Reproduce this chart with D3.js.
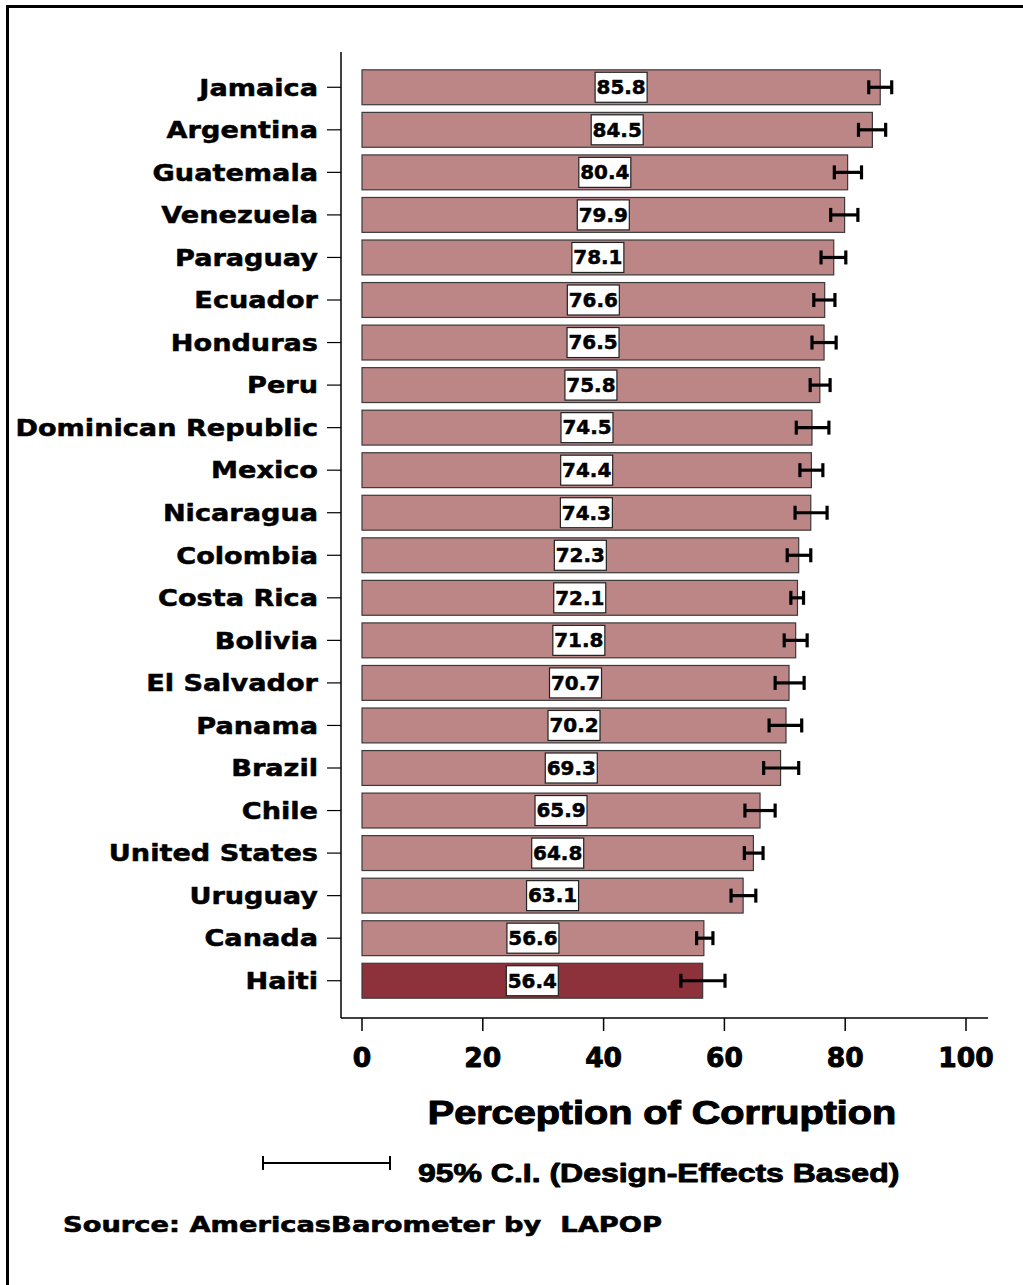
<!DOCTYPE html>
<html>
<head>
<meta charset="utf-8">
<script src="https://cdn.jsdelivr.net/npm/d3@7"></script>
<style>
  html, body { margin: 0; padding: 0; background: #fff; }
  svg { display: block; }
</style>
</head>
<body>
<script>
// Perception of corruption by country, with 95% confidence intervals
const countries = ["Jamaica", "Argentina", "Guatemala", "Venezuela", "Paraguay", "Ecuador",
  "Honduras", "Peru", "Dominican Republic", "Mexico", "Nicaragua", "Colombia", "Costa Rica",
  "Bolivia", "El Salvador", "Panama", "Brazil", "Chile", "United States", "Uruguay", "Canada", "Haiti"];
const values = [85.8, 84.5, 80.4, 79.9, 78.1, 76.6, 76.5, 75.8, 74.5, 74.4, 74.3, 72.3, 72.1,
  71.8, 70.7, 70.2, 69.3, 65.9, 64.8, 63.1, 56.6, 56.4];
const ciLow = [83.9, 82.2, 78.2, 77.6, 76.0, 74.8, 74.5, 74.2, 71.9, 72.5, 71.7, 70.4, 71.0,
  69.9, 68.4, 67.4, 66.5, 63.4, 63.3, 61.1, 55.4, 52.8];
const ciHigh = [87.7, 86.7, 82.7, 82.1, 80.1, 78.3, 78.5, 77.5, 77.3, 76.3, 77.0, 74.3, 73.1,
  73.7, 73.2, 72.8, 72.3, 68.4, 66.4, 65.2, 58.1, 60.1];
const highlighted = "Haiti";
const xTicks = [0, 20, 40, 60, 80, 100];
const xTitle = "Perception of Corruption";
const legendText = "95% C.I. (Design-Effects Based)";
const sourceText = "Source: AmericasBarometer by  LAPOP";

const W = 1023, H = 1285;
const svg = d3.select("body").append("svg").attr("width", W).attr("height", H);

const heavy = "'DejaVu Sans', sans-serif";
const bold = "'Liberation Sans', Arial, sans-serif";

// heavy, horizontally widened text placed at (px, py)
function wideText(parent, px, py, str, opts) {
  const g = parent.append("g")
    .attr("transform", `translate(${px},${py}) scale(${opts.sx || 1},1)`);
  return g.append("text")
    .attr("text-anchor", opts.anchor || "start")
    .attr("dy", opts.dy || null)
    .attr("font-family", opts.family || heavy)
    .attr("font-weight", "bold")
    .attr("font-size", opts.size)
    .attr("fill", "#000")
    .attr("stroke", "#000")
    .attr("stroke-width", opts.sw || 0)
    .attr("stroke-linejoin", "round")
    .style("white-space", "pre")
    .text(str);
}

// outer frame
svg.append("rect").attr("x", 7.5).attr("y", 6.5).attr("width", 1040).attr("height", 1300)
  .attr("fill", "none").attr("stroke", "#000").attr("stroke-width", 3);

const axisX = 341, axisY = 1018;
const x = d3.scaleLinear().domain([0, 100]).range([362, 966]);
const y = d3.scaleBand().domain(countries).range([66, 1002]).paddingInner(0.18).paddingOuter(0.09);

const data = countries.map((c, i) => ({ c, v: values[i], lo: ciLow[i], hi: ciHigh[i] }));

// bars
svg.append("g").selectAll("rect").data(data).join("rect")
  .attr("x", x(0)).attr("y", d => y(d.c))
  .attr("width", d => x(d.v) - x(0)).attr("height", y.bandwidth())
  .attr("fill", d => d.c === highlighted ? "#8d313a" : "#bc8687")
  .attr("stroke", "#3a3a3a").attr("stroke-width", 1.2);

// confidence intervals
const ci = svg.append("g").attr("stroke", "#000").attr("stroke-width", 3.2);
data.forEach(d => {
  const cy = y(d.c) + y.bandwidth() / 2;
  ci.append("line").attr("x1", x(d.lo)).attr("x2", x(d.hi)).attr("y1", cy).attr("y2", cy);
  ci.append("line").attr("x1", x(d.lo)).attr("x2", x(d.lo)).attr("y1", cy - 7).attr("y2", cy + 7);
  ci.append("line").attr("x1", x(d.hi)).attr("x2", x(d.hi)).attr("y1", cy - 7).attr("y2", cy + 7);
});

// value labels in white boxes at bar midpoints
const lab = svg.append("g");
data.forEach(d => {
  const cx = (x(0) + x(d.v)) / 2, cy = y(d.c) + y.bandwidth() / 2;
  const bw = 52, bh = 30;
  lab.append("rect").attr("x", cx - bw / 2).attr("y", cy - bh / 2)
    .attr("width", bw).attr("height", bh).attr("fill", "#fff")
    .attr("stroke", "#222").attr("stroke-width", 1.2);
  wideText(lab, cx, cy, d.v.toFixed(1), { anchor: "middle", dy: "0.36em", size: 19, sx: 1.05, sw: 0.5 });
});

// y axis
const yAxis = svg.append("g").attr("transform", `translate(${axisX},0)`);
yAxis.append("line").attr("x1", 0).attr("x2", 0).attr("y1", 52).attr("y2", axisY)
  .attr("stroke", "#000").attr("stroke-width", 1.5);
yAxis.selectAll("line.tick").data(countries).join("line").attr("class", "tick")
  .attr("x1", -14).attr("x2", 0)
  .attr("y1", d => y(d) + y.bandwidth() / 2).attr("y2", d => y(d) + y.bandwidth() / 2)
  .attr("stroke", "#000").attr("stroke-width", 1.2);
countries.forEach(c => {
  wideText(yAxis, -23, y(c) + y.bandwidth() / 2, c,
    { anchor: "end", dy: "0.36em", size: 23, sx: 1.18, sw: 0.5 });
});

// x axis
const xAxis = svg.append("g").attr("transform", `translate(0,${axisY})`);
xAxis.append("line").attr("x1", axisX).attr("x2", 988).attr("y1", 0).attr("y2", 0)
  .attr("stroke", "#000").attr("stroke-width", 1.5);
xAxis.selectAll("line.tick").data(xTicks).join("line").attr("class", "tick")
  .attr("x1", d => x(d)).attr("x2", d => x(d)).attr("y1", 0).attr("y2", 13)
  .attr("stroke", "#000").attr("stroke-width", 1.5);
xTicks.forEach(t => {
  wideText(xAxis, x(t), 49, String(t), { anchor: "middle", size: 26, sx: 1.02, sw: 0.9 });
});

// axis title
wideText(svg, 662, 1124, xTitle, { anchor: "middle", family: bold, size: 33, sx: 1.2, sw: 1.1 });

// legend
const lg = svg.append("g").attr("stroke", "#000").attr("stroke-width", 2);
lg.append("line").attr("x1", 263).attr("x2", 390).attr("y1", 1163).attr("y2", 1163);
lg.append("line").attr("x1", 263).attr("x2", 263).attr("y1", 1156).attr("y2", 1170);
lg.append("line").attr("x1", 390).attr("x2", 390).attr("y1", 1156).attr("y2", 1170);
wideText(svg, 418, 1182, legendText, { family: bold, size: 26, sx: 1.23, sw: 0.9 });

// source
wideText(svg, 63, 1232, sourceText, { size: 21, sx: 1.3, sw: 0.6 });
</script>
</body>
</html>
